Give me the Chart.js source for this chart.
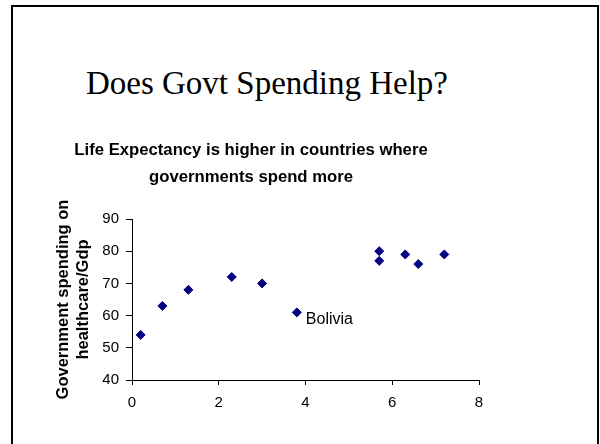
<!DOCTYPE html>
<html>
<head>
<meta charset="utf-8">
<title>Does Govt Spending Help?</title>
<script src="https://cdn.jsdelivr.net/npm/chart.js@4"></script>
<style>
  body { margin: 0; background: #fff; }
  #slide { position: relative; width: 600px; height: 444px; overflow: hidden; }
  #frame {
    position: absolute; left: 11px; top: 5px; width: 588px; height: 470px;
    box-sizing: border-box; border: 2px solid #000;
  }
  #slideTitle {
    position: absolute; left: 0; top: 67px; width: 534px; text-align: center;
    font-family: 'Liberation Serif', 'Times New Roman', serif; font-size: 33px;
    line-height: 1; color: #000;
  }
  #myChart { position: absolute; left: 0; top: 0; }
</style>
</head>
<body>
<div id="slide">
  <div id="frame"></div>
  <div id="slideTitle">Does Govt Spending Help?</div>
  <canvas id="myChart" width="600" height="444"></canvas>
</div>
<script>
'use strict';

// <------------------ DATA ------------------>

let spendingX = [0.2, 0.7, 1.3, 2.3, 3.0, 3.8, 5.7, 5.7, 6.3, 6.6, 7.2];
let lifeExpY = [54, 63, 68, 72, 70, 61, 80, 77, 79, 76, 79];
let pointNames = ['', '', '', '', '', 'Bolivia', '', '', '', '', ''];

let xTickValues = [0, 2, 4, 6, 8];
let yTickValues = [40, 50, 60, 70, 80, 90];

let chartTitle = ['Life Expectancy is higher in countries where', 'governments spend more'];
let yAxisTitle = ['Government spending on', 'healthcare/Gdp'];

let sansFont = "'Liberation Sans', Arial, sans-serif";


// <------------------ HELPERS ------------------>

let points = [];
for (let i = 0; i < spendingX.length; i++) {
  points.push({ x: spendingX[i], y: lifeExpY[i] });
}

function useTicks(values) {
  return function (scale) {
    scale.ticks = values.map(v => ({ value: v }));
  };
}

// writes the country name next to its point
let pointLabels = {
  id: 'pointLabels',
  afterDatasetsDraw(chart) {
    let ctx = chart.ctx;
    let meta = chart.getDatasetMeta(0);
    ctx.save();
    ctx.font = '16px ' + sansFont;
    ctx.fillStyle = '#000';
    ctx.textBaseline = 'middle';
    ctx.textAlign = 'left';
    meta.data.forEach((pt, i) => {
      if (pointNames[i]) {
        ctx.fillText(pointNames[i], pt.x + 9, pt.y + 7);
      }
    });
    ctx.restore();
  }
};


// <------------------ CHART ------------------>

let ctx = document.getElementById('myChart').getContext('2d');

let myChartObj = {
  type: 'scatter',
  data: {
    datasets: [{
      label: 'Countries',
      data: points,
      pointStyle: 'rectRot',
      pointRadius: 4.5,
      pointBorderWidth: 1,
      backgroundColor: '#000080',
      borderColor: '#000080'
    }]
  },
  options: {
    responsive: false,
    animation: false,
    layout: {
      padding: { left: 23, right: 121, top: 120, bottom: 0 }
    },
    plugins: {
      legend: { display: false },
      tooltip: { enabled: false },
      title: {
        display: true,
        text: chartTitle,
        color: '#000',
        font: { family: sansFont, size: 16.7, weight: 'bold', lineHeight: '27px' },
        padding: { top: 16.5, bottom: 28.5 }
      }
    },
    scales: {
      x: {
        type: 'linear',
        min: 0,
        max: 8,
        afterBuildTicks: useTicks(xTickValues),
        afterFit(scale) { scale.height = 64; },
        grid: { drawOnChartArea: false, tickLength: 5, color: '#000' },
        border: { color: '#000', width: 1 },
        ticks: { color: '#000', padding: 9, font: { family: sansFont, size: 15 } }
      },
      y: {
        type: 'linear',
        min: 40,
        max: 90,
        afterBuildTicks: useTicks(yTickValues),
        afterFit(scale) { scale.width = 109; },
        grid: { drawOnChartArea: false, tickLength: 6, color: '#000' },
        border: { color: '#000', width: 1 },
        ticks: { color: '#000', padding: 7, font: { family: sansFont, size: 15 } },
        title: {
          display: true,
          text: yAxisTitle,
          color: '#000',
          font: { family: sansFont, size: 16.5, weight: 'bold', lineHeight: '20px' },
          padding: { top: 30, bottom: 0 }
        }
      }
    }
  },
  plugins: [pointLabels]
};

const myChart = new Chart(ctx, myChartObj);
</script>
</body>
</html>
